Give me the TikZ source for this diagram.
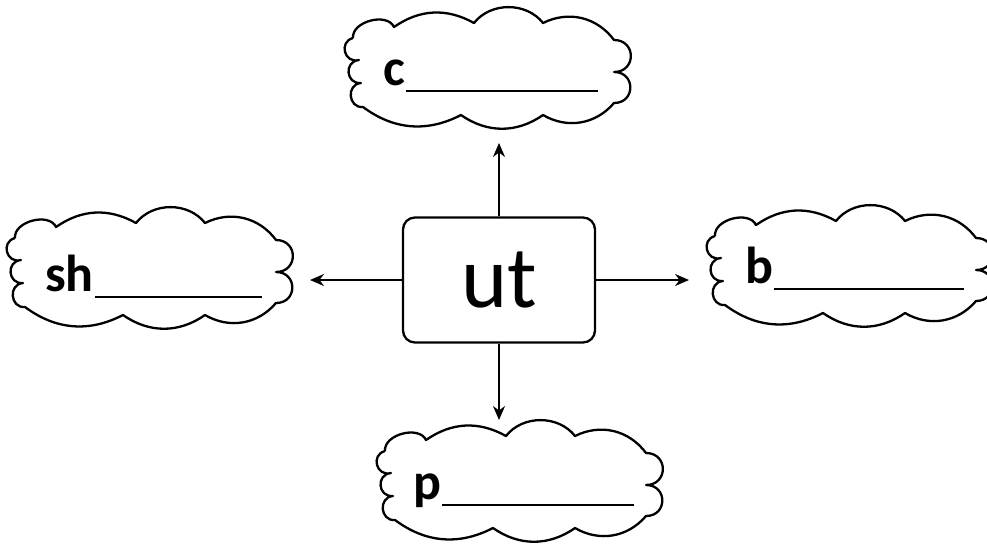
\documentclass[tikz,border=0pt]{standalone}
\usepackage{fontspec}
\setmainfont{Carlito}
\usetikzlibrary{arrows.meta}

\tikzset{
	cloudline/.style={line width=2.3pt, line join=round},
	cloudpic/.pic={
		\draw[cloudline] (-136,-32) to[bend left=80] (-95,-43) to[bend left=32] (-15,-47)
			to[bend left=52] (54,-47) to[bend left=40] (125,-30)
			to[bend left=90,looseness=1.8] (125,2) to[bend left=90,looseness=1.8] (125,33)
			to[bend left=40] (54,45) to[bend left=35] (-28,45) to[bend left=32] (-126,37)
			to[bend left=90,looseness=1.6] (-128,13) to[bend left=90,looseness=1.7] (-130,-10)
			to[bend left=90,looseness=1.7] (-136,-32);
	},
	wordbox/.style={draw, line width=2.3pt, rounded corners=12pt, minimum width=192pt,
		minimum height=125pt, inner sep=0pt, font=\fontsize{88}{88}\selectfont},
	blank/.style={anchor=base west, inner sep=0pt, font=\fontsize{52}{52}\selectfont\bfseries},
	link/.style={line width=2pt, -{Stealth[length=14pt,width=12pt]}},
}

\begin{document}
\begin{tikzpicture}[x=1pt,y=-1pt]
	\useasboundingbox (0,0) rectangle (987,544);
	% word in the middle
	\node[wordbox] (ut) at (499,280) {ut};
	% the four clouds
	\pic at (489,70) {cloudpic};
	\pic at (151,270) {cloudpic};
	\pic at (851,268) {cloudpic};
	\pic at (521,483) {cloudpic};
	\node[blank] (c) at (383,85) {c\hspace{1pt}\rule[-7pt]{192pt}{2pt}};
	\node[blank] (sh) at (45,291) {sh\hspace{1pt}\rule[-7pt]{167pt}{2pt}};
	\node[blank] (b) at (745,283) {b\hspace{1pt}\rule[-7pt]{190pt}{2pt}};
	\node[blank] (p) at (413,499) {p\hspace{1pt}\rule[-7pt]{192pt}{2pt}};
	% arrows
	\coordinate (ctip) at (499,143);
	\coordinate (shtip) at (310,280);
	\coordinate (btip) at (689,280);
	\coordinate (ptip) at (499,420);
	\draw[link] (ut.north) -- (ctip);
	\draw[link] (ut.west) -- (shtip);
	\draw[link] (ut.east) -- (btip);
	\draw[link] (ut.south) -- (ptip);
\end{tikzpicture}
\end{document}
